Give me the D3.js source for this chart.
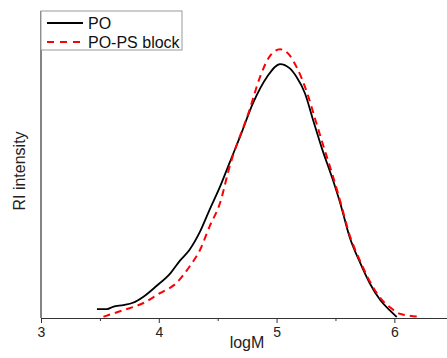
<!DOCTYPE html>
<html>
<head>
<meta charset="utf-8">
<script src="https://cdn.jsdelivr.net/npm/d3@7"></script>
<style>
  body { margin: 0; background: #fff; }
  text { font-family: "Liberation Sans", Arial, sans-serif; }
</style>
</head>
<body>
<svg id="chart" width="447" height="358"></svg>
<script>
// PO (black solid) : logM vs RI intensity
var poLogM = [3.475, 3.56, 3.61, 3.70, 3.78, 3.87, 3.98, 4.10, 4.18, 4.26, 4.35, 4.43, 4.52, 4.60, 4.69, 4.80, 4.92, 5.03, 5.11, 5.17, 5.24, 5.31, 5.39, 5.47, 5.54, 5.62, 5.71, 5.79, 5.88, 5.96, 6.02];
var poRI   = [3.5, 3.5, 4.4, 5.1, 6.0, 8.4, 12.6, 17.7, 22.6, 26.8, 34.0, 42.5, 51.7, 61.0, 71.4, 84.6, 95.0, 100, 98.4, 94.9, 88.6, 78.0, 66.1, 55.5, 45.3, 31.9, 21.7, 13.8, 7.1, 3.1, 0.4];

// PO-PS block (red dashed)
var blockLogM = [3.53, 3.70, 3.87, 4.01, 4.15, 4.26, 4.35, 4.43, 4.52, 4.60, 4.77, 4.86, 4.94, 5.03, 5.11, 5.17, 5.26, 5.33, 5.39, 5.47, 5.54, 5.62, 5.71, 5.79, 5.88, 5.96, 6.05, 6.13, 6.22];
var blockRI   = [0.5, 3.1, 5.9, 9.8, 13.8, 20.2, 26.8, 35.9, 45.3, 59.4, 81.9, 95.0, 102.9, 105.8, 103.5, 98.8, 88.6, 78.0, 68.9, 57.1, 46.1, 32.7, 22.4, 14.6, 7.9, 4.3, 1.6, 0.9, 0.5];

var majorTicks = [3, 4, 5, 6];
var minorTicks = [3.5, 4.5, 5.5];
var seriesNames = ["PO", "PO-PS block"];

var svg = d3.select("#chart");
var mLeft = 41, mRight = 447, mTop = 11, mBottom = 318;

var x = d3.scaleLinear().domain([3, 6.447]).range([mLeft, mRight]);
var y = d3.scaleLinear().domain([0, 120.9]).range([mBottom, mTop]);

var axisColor = "#333";

// minor ticks
svg.append("g")
    .attr("transform", "translate(0," + mBottom + ")")
    .call(d3.axisBottom(x).tickValues(minorTicks).tickSize(3).tickSizeOuter(0).tickFormat(""))
    .call(function(g) { g.select(".domain").remove(); })
    .selectAll("line").attr("stroke", axisColor);

// major ticks + labels
var xAxis = svg.append("g")
    .attr("transform", "translate(0," + mBottom + ")")
    .call(d3.axisBottom(x).tickValues(majorTicks).tickSize(5).tickSizeOuter(0)
          .tickPadding(4).tickFormat(d3.format("d")));
xAxis.select(".domain").attr("stroke", axisColor).attr("stroke-width", 1.2);
xAxis.selectAll("line").attr("stroke", axisColor);
xAxis.selectAll("text")
    .attr("fill", "#222")
    .style("font-size", "14px")
    .style("font-family", "Liberation Sans, Arial, sans-serif");

// y axis line only
svg.append("line")
    .attr("x1", mLeft).attr("x2", mLeft)
    .attr("y1", mTop).attr("y2", mBottom)
    .attr("stroke", axisColor).attr("stroke-width", 1.2);

// axis titles
svg.append("text")
    .attr("x", 247).attr("y", 348)
    .attr("text-anchor", "middle")
    .attr("fill", "#222")
    .style("font-size", "16px")
    .text("logM");

svg.append("text")
    .attr("transform", "translate(25,171) rotate(-90)")
    .attr("text-anchor", "middle")
    .attr("fill", "#222")
    .style("font-size", "16px")
    .text("RI intensity");

// curves
var line = d3.line()
    .x(function(d) { return x(d[0]); })
    .y(function(d) { return y(d[1]); })
    .curve(d3.curveMonotoneX);

var blockData = d3.zip(blockLogM, blockRI);
var poData = d3.zip(poLogM, poRI);

svg.append("path")
    .datum(poData)
    .attr("d", line)
    .attr("fill", "none")
    .attr("stroke", "#000")
    .attr("stroke-width", 1.8);

svg.append("path")
    .datum(blockData)
    .attr("d", line)
    .attr("fill", "none")
    .attr("stroke", "#ff0000")
    .attr("stroke-width", 2)
    .attr("stroke-dasharray", "7,5");

// legend
var legend = svg.append("g");
legend.append("rect")
    .attr("x", mLeft).attr("y", 11)
    .attr("width", 141).attr("height", 39)
    .attr("fill", "#fff")
    .attr("stroke", "#999")
    .attr("stroke-width", 1);

var legendStyles = [
  { color: "#000", dash: null, width: 1.8 },
  { color: "#ff0000", dash: "7,6", width: 2 }
];
seriesNames.forEach(function(name, i) {
  var ly = 23 + i * 19;
  legend.append("line")
      .attr("x1", 47).attr("x2", 83)
      .attr("y1", ly).attr("y2", ly)
      .attr("stroke", legendStyles[i].color)
      .attr("stroke-width", legendStyles[i].width)
      .attr("stroke-dasharray", legendStyles[i].dash);
  legend.append("text")
      .attr("x", 88).attr("y", ly + 5.5)
      .attr("fill", "#111")
      .style("font-size", "16px")
      .text(name);
});
</script>
</body>
</html>
